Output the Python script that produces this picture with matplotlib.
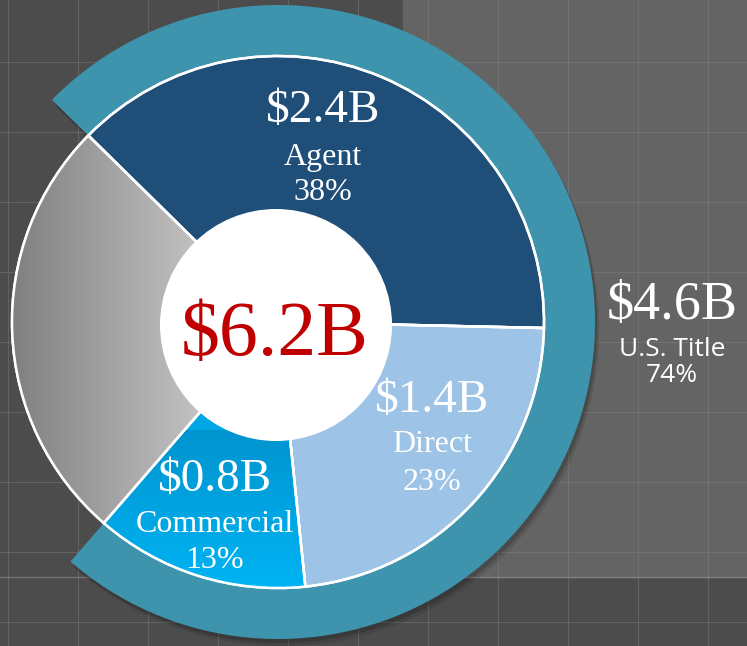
import numpy as np
import matplotlib
matplotlib.use("Agg")
import matplotlib.pyplot as plt
from matplotlib.patches import Circle, Rectangle

# ---- data ----
segments = ["Agent", "Direct", "Commercial", "Other"]
shares = [38, 23, 13, 26]
amounts = ["$2.4B", "$1.4B", "$0.8B", ""]
pct_labels = ["38%", "23%", "13%", ""]
outer_shares = [74, 26]
outer_amount = "$4.6B"
outer_name = "U.S. Title"
outer_pct = "74%"
total_label = "$6.2B"

W, H = 747, 646
fig = plt.figure(figsize=(W / 100, H / 100), dpi=100)
ax = fig.add_axes([0, 0, 1, 1])
ax.set_xlim(0, W)
ax.set_ylim(0, H)
ax.axis("off")

def Y(y):
    return H - y

# ---- background ----
ax.add_patch(Rectangle((0, 0), W, H, color="#4c4c4c", zorder=0))
ax.add_patch(Rectangle((403, Y(577)), W - 403, 577, color="#646464", zorder=0.1))
for gx in np.arange(8, W, 70):
    ax.axvline(gx, color="#8c8c8c", lw=0.8, alpha=0.35, zorder=0.2)
for gy in np.arange(62, H, 70):
    ax.axhline(Y(gy), color="#8c8c8c", lw=0.8, alpha=0.35, zorder=0.2)
ax.axhline(Y(577), color="#9a9a9a", lw=1.0, alpha=0.5, zorder=0.2)

cx, cy = 278, Y(322)
R_in = 266
R_out = 317
start = 135.5

# ---- outer ring shadow ----
for off, a in [(7, 0.10), (4, 0.16)]:
    sh, _ = ax.pie(outer_shares, radius=R_out, center=(cx + off * 0.6, cy - off),
                   startangle=start, counterclock=False,
                   colors=["black", "none"],
                   wedgeprops=dict(width=R_out - R_in, linewidth=0, alpha=a),
                   frame=True)
    for s in sh:
        s.set_zorder(0.5)

# ---- outer ring ----
ring, _ = ax.pie(outer_shares, radius=R_out, center=(cx, cy),
                 startangle=start, counterclock=False,
                 colors=["#3e94ad", "none"],
                 wedgeprops=dict(width=R_out - R_in + 2, linewidth=0),
                 frame=True)
for r in ring:
    r.set_zorder(1)

# ---- inner pie ----
inner_colors = ["#1f4e79", "#9dc3e6", "#00a6e4", "#a6a6a6"]
wedges, _ = ax.pie(shares, radius=R_in, center=(cx, cy),
                   startangle=start, counterclock=False,
                   colors=inner_colors,
                   wedgeprops=dict(edgecolor="white", linewidth=1.8),
                   frame=True)
for w in wedges:
    w.set_zorder(2)

# gradients (clip to wedges)
gray_grad = np.linspace(0, 1, 256).reshape(1, -1)
cmap_gray = matplotlib.colors.LinearSegmentedColormap.from_list("g", ["#808080", "#c2c2c2"])
im1 = ax.imshow(gray_grad, cmap=cmap_gray, extent=[12, 200, Y(600), Y(100)],
                aspect="auto", zorder=2.1, interpolation="bilinear")
im1.set_clip_path(wedges[3])

comm_grad = np.linspace(0, 1, 256).reshape(-1, 1)
cmap_comm = matplotlib.colors.LinearSegmentedColormap.from_list("c", ["#00b4f4", "#0094cf"])
im2 = ax.imshow(comm_grad, cmap=cmap_comm, extent=[90, 310, Y(590), Y(430)],
                aspect="auto", zorder=2.1, interpolation="bilinear", origin="lower")
im2.set_clip_path(wedges[2])

# redraw white edges on top of gradients
edges, _ = ax.pie(shares, radius=R_in, center=(cx, cy),
                  startangle=start, counterclock=False,
                  colors=["none"] * 4,
                  wedgeprops=dict(edgecolor="white", linewidth=1.8, fill=False),
                  frame=True)
for e in edges:
    e.set_zorder(2.5)

# center hole
ax.add_patch(Circle((276, Y(325)), 116, facecolor="white", edgecolor="none", zorder=3))

ax.set_xlim(0, W)
ax.set_ylim(0, H)
ax.set_xticks([])
ax.set_yticks([])

serif = ["Liberation Serif", "DejaVu Serif"]
sans = ["Open Sans", "DejaVu Sans"]

ax.text(275, Y(336), total_label, color="#c00000", fontsize=56, family=serif,
        ha="center", va="center", zorder=4)

label_pos = [(323, 111, 158, 193), (432, 401, 444, 483), (215, 480, 525, 561)]
for i, (x, y1, y2, y3) in enumerate(label_pos):
    ax.text(x, Y(y1), amounts[i], color="white", fontsize=34, family=serif,
            ha="center", va="center", zorder=4)
    ax.text(x, Y(y2), segments[i], color="white", fontsize=23, family=serif,
            ha="center", va="center", zorder=4)
    ax.text(x, Y(y3), pct_labels[i], color="white", fontsize=23, family=serif,
            ha="center", va="center", zorder=4)

ax.text(672, Y(306), outer_amount, color="white", fontsize=39, family=serif,
        ha="center", va="center", zorder=4)
ax.text(672, Y(350), outer_name, color="white", fontsize=19, family=sans,
        ha="center", va="center", zorder=4)
ax.text(672, Y(376), outer_pct, color="white", fontsize=19, family=sans,
        ha="center", va="center", zorder=4)

fig.savefig("out.png", dpi=100)
